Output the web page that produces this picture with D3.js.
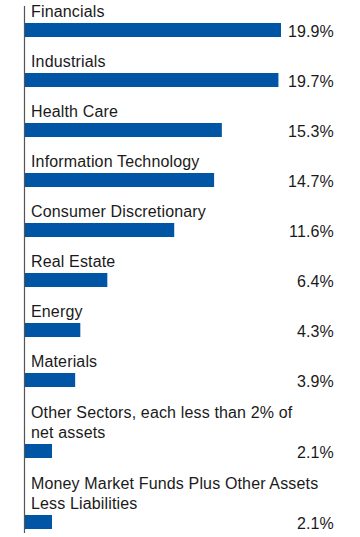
<!DOCTYPE html>
<html>
<head>
<meta charset="utf-8">
<script src="https://cdn.jsdelivr.net/npm/d3@7"></script>
<style>
	body { margin: 0; background: #fff; }
	svg text { font-family: "Liberation Sans", Arial, sans-serif; font-size: 16px; fill: #1a1a1a; letter-spacing: 0.15px; }
</style>
</head>
<body>
<div id="chart"></div>
<script>
// sector names, "\n" marks where the label breaks in the original
const sectors = [
	"Financials",
	"Industrials",
	"Health Care",
	"Information Technology",
	"Consumer Discretionary",
	"Real Estate",
	"Energy",
	"Materials",
	"Other Sectors, each less than 2% of\nnet assets",
	"Money Market Funds Plus Other Assets\nLess Liabilities"
];
const weights = [19.9, 19.7, 15.3, 14.7, 11.6, 6.4, 4.3, 3.9, 2.1, 2.1];
const valueLabels = ["19.9%", "19.7%", "15.3%", "14.7%", "11.6%", "6.4%", "4.3%", "3.9%", "2.1%", "2.1%"];

const width = 360, height = 537;
const rowH = 50, extraLine = 21, lineH = 20, barH = 14;
const axisX = 24;

let rows = [];
let barTop = 23;
sectors.forEach(function (s, i) {
	let lines = s.split("\n");
	if (i > 0) barTop += rowH + (lines.length - 1) * extraLine;
	rows.push({ lines: lines, value: weights[i], label: valueLabels[i], top: barTop });
});

let svg = d3.select("#chart").append("svg")
	.attr("width", width)
	.attr("height", height);

let x = d3.scaleLinear()
	.domain([0, d3.max(weights)])
	.range([axisX + 1, 281]);

let g = svg.selectAll("g.row")
	.data(rows)
	.enter().append("g")
	.attr("class", "row");

g.append("rect")
	.attr("x", x(0))
	.attr("y", function (d) { return d.top; })
	.attr("width", function (d) { return x(d.value) - x(0); })
	.attr("height", barH)
	.attr("fill", "#0055a4");

g.append("text")
	.attr("x", 31)
	.attr("y", function (d) { return d.top - 6 - (d.lines.length - 1) * lineH; })
	.selectAll("tspan")
	.data(function (d) { return d.lines; })
	.enter().append("tspan")
	.attr("x", 31)
	.attr("dy", function (d, i) { return i == 0 ? 0 : lineH; })
	.text(function (d) { return d; });

g.append("text")
	.attr("x", 334)
	.attr("y", function (d) { return d.top + barH; })
	.attr("text-anchor", "end")
	.text(function (d) { return d.label; });

svg.append("line")
	.attr("x1", axisX + 0.5)
	.attr("x2", axisX + 0.5)
	.attr("y1", 6)
	.attr("y2", 533)
	.attr("stroke", "#555")
	.attr("stroke-width", 1.2);
</script>
</body>
</html>
